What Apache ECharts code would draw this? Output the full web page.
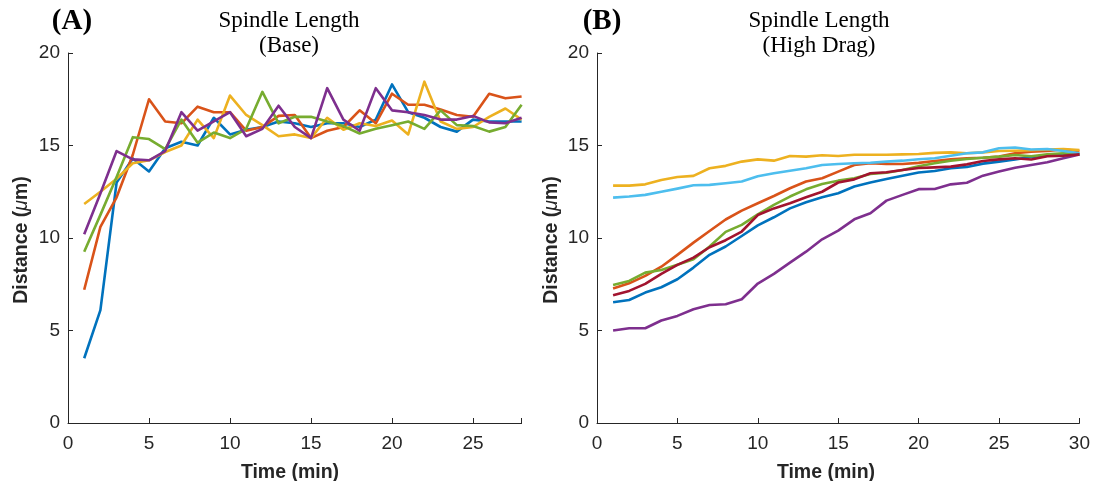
<!DOCTYPE html>
<html>
<head>
<meta charset="utf-8">
<style>
  html, body { margin: 0; padding: 0; background: #fff; }
  #chart { width: 1093px; height: 481px; }
</style>
<script src="https://cdn.jsdelivr.net/npm/echarts@6/dist/echarts.min.js"></script>
</head>
<body>
<div id="chart"></div>
<script>
// Time points (minutes)
const timeBase = [1,2,3,4,5,6,7,8,9,10,11,12,13,14,15,16,17,18,19,20,21,22,23,24,25,26,27,28];
const timeDrag = [1,2,3,4,5,6,7,8,9,10,11,12,13,14,15,16,17,18,19,20,21,22,23,24,25,26,27,28,29,30];

// Spindle length (µm), base condition
const baseBlue   = [3.5,6.1,13.0,14.3,13.6,14.85,15.2,15.0,16.5,15.6,15.85,16.0,16.3,16.2,16.0,16.2,16.2,16.0,16.4,18.3,16.8,16.5,16.0,15.75,16.4,16.3,16.3,16.3];
const baseOrange = [7.2,10.6,12.2,14.5,17.5,16.3,16.2,17.1,16.8,16.8,15.8,16.0,16.6,16.65,15.4,15.8,16.0,16.9,16.2,17.8,17.2,17.2,16.95,16.65,16.55,17.8,17.55,17.65];
const baseYellow = [11.84,12.5,13.2,14.04,14.2,14.65,15.0,16.4,15.4,17.7,16.65,16.1,15.5,15.6,15.4,16.5,15.85,16.2,16.05,16.35,15.6,18.45,16.3,15.9,16.0,16.55,17.0,16.4];
const basePurple = [10.2,12.4,14.7,14.25,14.2,14.7,16.8,15.8,16.3,16.8,15.5,15.9,17.15,16.0,15.4,18.1,16.4,15.8,18.1,16.9,16.8,16.65,16.4,16.4,16.6,16.25,16.2,16.5];
const baseGreen  = [9.26,11.25,13.3,15.45,15.35,14.8,16.4,15.15,15.7,15.4,15.9,17.9,16.2,16.55,16.55,16.3,16.05,15.65,15.9,16.1,16.3,15.9,16.9,16.1,16.05,15.75,16.0,17.2];

// Spindle length (µm), high drag condition
const dragBlue    = [6.53,6.65,7.05,7.34,7.77,8.4,9.09,9.54,10.11,10.68,11.12,11.6,11.93,12.2,12.42,12.78,13.0,13.19,13.37,13.54,13.62,13.77,13.84,14.02,14.13,14.25,14.38,14.45,14.49,14.52];
const dragOrange  = [7.27,7.55,7.95,8.45,9.09,9.75,10.38,11.0,11.48,11.88,12.27,12.69,13.05,13.23,13.59,13.95,14.04,14.0,14.0,14.06,14.16,14.25,14.31,14.34,14.4,14.58,14.67,14.7,14.78,14.7];
const dragYellow  = [12.83,12.83,12.9,13.14,13.3,13.36,13.77,13.9,14.13,14.25,14.18,14.43,14.4,14.47,14.43,14.5,14.5,14.5,14.52,14.54,14.6,14.63,14.58,14.63,14.7,14.72,14.74,14.78,14.81,14.75];
const dragPurple  = [5.0,5.12,5.12,5.54,5.79,6.15,6.38,6.42,6.69,7.54,8.06,8.67,9.26,9.93,10.4,11.01,11.34,12.02,12.33,12.64,12.65,12.9,12.99,13.37,13.59,13.8,13.95,14.09,14.31,14.52];
const dragGreen   = [7.46,7.68,8.13,8.27,8.55,8.85,9.54,10.33,10.71,11.28,11.79,12.24,12.63,12.92,13.1,13.23,13.46,13.53,13.68,13.88,14.04,14.18,14.27,14.34,14.4,14.49,14.42,14.52,14.58,14.55];
const dragSky     = [12.18,12.24,12.33,12.5,12.67,12.85,12.87,12.96,13.05,13.34,13.5,13.64,13.77,13.95,14.0,14.04,14.07,14.13,14.18,14.26,14.31,14.45,14.58,14.63,14.85,14.89,14.78,14.81,14.7,14.58];
const dragCrimson = [6.9,7.14,7.52,8.06,8.55,8.94,9.5,9.88,10.35,11.24,11.6,11.88,12.2,12.5,13.0,13.17,13.5,13.55,13.68,13.78,13.82,13.86,13.98,14.16,14.25,14.31,14.24,14.42,14.45,14.52];

// Axis ticks
const baseXTicks = [0, 5, 10, 15, 20, 25];
const dragXTicks = [0, 5, 10, 15, 20, 25, 30];
const yTicks = [0, 5, 10, 15, 20];

const C = {
  blue: '#0072BD', orange: '#D95319', yellow: '#EDB120', purple: '#7E2F8E',
  green: '#77AC30', sky: '#4DBEEE', crimson: '#A2142F'
};
const axisColor = '#262626';
const sansFont = '"Liberation Sans", Arial, sans-serif';
const serifFont = '"Liberation Serif", "Times New Roman", serif';
const tickFontSize = 19;
const nameFontSize = 19.5;

function pairs(xs, ys) { return xs.map((x, i) => [x, ys[i]]); }

function lineSeries(idx, xs, ys, color) {
  return {
    type: 'line', xAxisIndex: idx, yAxisIndex: idx,
    data: pairs(xs, ys), showSymbol: false, symbol: 'none',
    lineStyle: { color: color, width: 2.6, join: 'round' },
    animation: false, z: 3
  };
}

function xAxisDef(idx, max, ticks) {
  return {
    type: 'value', gridIndex: idx, min: 0, max: max, interval: 5,
    axisLine: { show: true, lineStyle: { color: axisColor, width: 1 } },
    axisTick: { show: true, inside: true, length: 5, lineStyle: { color: axisColor } },
    axisLabel: {
      color: axisColor, fontFamily: sansFont, fontSize: tickFontSize, margin: 11,
      formatter: v => ticks.includes(v) ? String(v) : ''
    },
    splitLine: { show: false }
  };
}

function yAxisDef(idx) {
  return {
    type: 'value', gridIndex: idx, min: 0, max: 20, interval: 5,
    axisLine: { show: true, lineStyle: { color: axisColor, width: 1 } },
    axisTick: { show: true, inside: true, length: 5, lineStyle: { color: axisColor } },
    axisLabel: {
      color: axisColor, fontFamily: sansFont, fontSize: tickFontSize, margin: 8,
      formatter: v => yTicks.includes(v) ? String(v) : ''
    },
    splitLine: { show: false }
  };
}

function textEl(x, y, text, font, size, weight, color) {
  return {
    type: 'text', x: x, y: y, silent: true,
    style: {
      text: text, fill: color || '#000', fontFamily: font, fontSize: size,
      fontWeight: weight, align: 'center', verticalAlign: 'middle', lineHeight: 25
    }
  };
}

function yNameEl(x, y) {
  return {
    type: 'text', x: x, y: y, rotation: Math.PI / 2, silent: true,
    style: {
      text: '{b|Distance (}{i|μ}{b|m)}',
      align: 'center', verticalAlign: 'middle',
      rich: {
        b: { fontFamily: sansFont, fontSize: nameFontSize, fontWeight: 'bold', fill: axisColor },
        i: { fontFamily: sansFont, fontSize: nameFontSize, fontStyle: 'italic', fill: axisColor }
      }
    }
  };
}

const chart = echarts.init(document.getElementById('chart'), null, { renderer: 'canvas' });

chart.setOption({
  backgroundColor: '#fff',
  animation: false,
  grid: [
    { left: 68, top: 53, width: 453.6, height: 370 },
    { left: 597, top: 53, width: 485, height: 370 }
  ],
  xAxis: [xAxisDef(0, 28, baseXTicks), xAxisDef(1, 30, dragXTicks)],
  yAxis: [yAxisDef(0), yAxisDef(1)],
  series: [
    lineSeries(0, timeBase, baseBlue, C.blue),
    lineSeries(0, timeBase, baseOrange, C.orange),
    lineSeries(0, timeBase, baseYellow, C.yellow),
    lineSeries(0, timeBase, baseGreen, C.green),
    lineSeries(0, timeBase, basePurple, C.purple),

    lineSeries(1, timeDrag, dragBlue, C.blue),
    lineSeries(1, timeDrag, dragOrange, C.orange),
    lineSeries(1, timeDrag, dragYellow, C.yellow),
    lineSeries(1, timeDrag, dragPurple, C.purple),
    lineSeries(1, timeDrag, dragGreen, C.green),
    lineSeries(1, timeDrag, dragSky, C.sky),
    lineSeries(1, timeDrag, dragCrimson, C.crimson)
  ],
  graphic: [
    textEl(72, 22, '(A)', serifFont, 29, 'bold'),
    textEl(602, 22, '(B)', serifFont, 29, 'bold'),
    textEl(289, 33, 'Spindle Length\n(Base)', serifFont, 23, 'normal'),
    textEl(819, 33, 'Spindle Length\n(High Drag)', serifFont, 23, 'normal'),
    textEl(290, 473, 'Time (min)', sansFont, nameFontSize, 'bold', axisColor),
    textEl(826, 473, 'Time (min)', sansFont, nameFontSize, 'bold', axisColor),
    yNameEl(22, 240),
    yNameEl(552, 240)
  ]
});
</script>
</body>
</html>
